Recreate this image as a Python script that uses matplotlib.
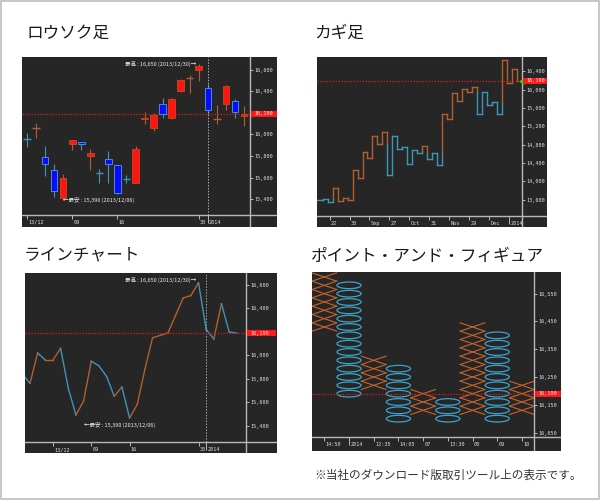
import numpy as np
import matplotlib.pyplot as plt
from matplotlib import transforms
from matplotlib.patches import Rectangle, Ellipse

plt.rcParams['font.family'] = ['Noto Sans CJK JP', 'DejaVu Sans']

# ロウソク足 : daily OHLC
candle_open  = [15960, 16055, 15790, 15670, 15410, 15910, 15930, 15800, 15650, 15770, 15715, 15590, 15550,
                16140, 16060, 16280, 16150, 16405, 16520, 16600, 16430, 16140, 16280, 16310, 16170]
candle_close = [15955, 16060, 15725, 15480, 15600, 15950, 15910, 15830, 15645, 15730, 15460, 15585, 15870,
                16155, 16180, 16190, 16330, 16500, 16525, 16630, 16230, 16145, 16450, 16210, 16190]
candle_high  = [16010, 16110, 15890, 15730, 15635, 15950, 15930, 15870, 15680, 15850, 15715, 15625, 15895,
                16210, 16195, 16340, 16335, 16510, 16555, 16650, 16470, 16270, 16455, 16325, 16260]
candle_low   = [15880, 15970, 15615, 15425, 15390, 15855, 15855, 15675, 15550, 15550, 15450, 15550, 15550,
                16095, 16035, 16155, 16145, 16390, 16380, 16495, 16185, 16095, 16230, 16155, 16075]
candle_tick_idx = [0, 5, 10, 19, 20]
candle_tick_labels = ['13/12', '09', '16', '30', '2014']

# カギ足 : turning prices
kagi_levels = [13590, 13620, 13550, 13850, 13570, 13630, 13600, 14250, 14070, 14640, 14520, 14990, 14820,
               15080, 14130, 15000, 14710, 14760, 14380, 14690, 14620, 14770, 14480, 14620, 14350, 15480,
               15370, 15930, 15750, 16020, 15950, 16060, 15480, 15950, 15660, 15730, 15460, 16640, 16150,
               16460, 16190]
kagi_tick_labels = ['22', '30', 'Sep', '27', 'Oct', '31', 'Nov', '29', 'Dec', '2014']

# ラインチャート : closes (first one lies just left of the frame)
line_close = [15840, 15760, 16020, 15960, 15960, 16060, 15720, 15490, 15610, 15950, 15910, 15820, 15650,
              15730, 15465, 15580, 15880, 16150, 16170, 16190, 16340, 16490, 16510, 16620, 16220, 16140,
              16440, 16200, 16190]
line_tick_idx = [3, 8, 13, 22, 23]
line_tick_labels = ['13/12', '09', '16', '30', '2014']

# ポイント・アンド・フィギュア : columns
pf_type = ['X', 'O', 'X', 'O', 'X', 'O', 'X', 'O', 'X']
pf_high = [16610, 16580, 16310, 16280, 16190, 16160, 16430, 16400, 16220]
pf_low  = [16430, 16190, 16220, 16100, 16130, 16100, 16130, 16100, 16130]
pf_box = 30
pf_tick_labels = ['14:50', '2014', '12:35', '14:05', '07', '13:30', '08', '09', '10']

current_price = 16190

W, H = 600, 500
fig = plt.figure(figsize=(W / 100, H / 100), dpi=100, facecolor='white',
                 edgecolor='#c8c8c8', linewidth=1.5)

BG = '#262626'
AXC = '#b8b8b8'
TXT = '#e0e0e0'
BROWN = '#b0602e'
TEAL = '#3f95b5'
MONO = 'DejaVu Sans Mono'


def panel(box, axis_x, axis_y):
    x0, y0, x1, y1 = box
    bg = fig.add_axes([x0 / W, 1 - y1 / H, (x1 - x0) / W, (y1 - y0) / H])
    bg.set_facecolor(BG)
    bg.set_xlim(x0, x1)
    bg.set_ylim(y1, y0)
    bg.set_xticks([])
    bg.set_yticks([])
    for s in bg.spines.values():
        s.set_visible(False)
    bg.axvline(axis_x, color=AXC, lw=1)
    bg.axhline(axis_y, color=AXC, lw=1)
    ax = fig.add_axes([x0 / W, 1 - axis_y / H, (axis_x - x0) / W, (axis_y - y0) / H])
    ax.patch.set_visible(False)
    for s in ax.spines.values():
        s.set_visible(False)
    ax.yaxis.tick_right()
    ax.tick_params(axis='y', length=2, width=0.7, color=AXC, pad=0.8)
    ax.tick_params(axis='x', which='both', width=0.7, color=AXC, labelbottom=False)
    ax.tick_params(axis='x', which='major', length=3)
    ax.tick_params(axis='x', which='minor', length=5.5)
    return ax


def y_labels(ax, ticks):
    ax.set_yticks(ticks, labels=[f'{v:,}' for v in ticks], fontsize=3.7, family=MONO, color=TXT)


def x_labels(ax, pos, labels):
    ax.set_xticks([p for p, s in zip(pos, labels) if s != '2014'])
    ax.set_xticks([p for p, s in zip(pos, labels) if s == '2014'], minor=True)
    tr = transforms.blended_transform_factory(ax.transData, ax.transAxes) + \
        transforms.ScaledTranslation(1.2 / 100, -7.5 / 100, fig.dpi_scale_trans)
    for p, s in zip(pos, labels):
        ax.text(p, 0, s, transform=tr, ha='left', va='center', fontsize=3.7,
                color=TXT, family=MONO, clip_on=False)


def price_tag(ax, price, tag_px, marker=False):
    ax.axhline(price, color='#c81e1e', lw=0.9, ls=(0, (1.2, 1.2)))
    anchor = transforms.blended_transform_factory(ax.transAxes, ax.transData)
    tr = fig.dpi_scale_trans + transforms.ScaledTranslation(1, price, anchor)
    fig.add_artist(Rectangle((0.01, -0.03), (tag_px - 1) / 100, 0.06, transform=tr,
                             fc='#ff1a1a', ec='none'))
    fig.text(0.045, 0, f'{price:,}', transform=tr, ha='left', va='center',
             fontsize=3.7, color='#ffe4e4', family=MONO)
    if marker:
        ax.plot([1], [price], marker='<', ms=3.5, color='#22dd22', transform=anchor,
                clip_on=False, zorder=5)


# ---- ロウソク足
ax1 = panel((22, 57, 277, 227), 250, 215)
idx = np.arange(len(candle_open))
for i, o, c, h, l in zip(idx, candle_open, candle_close, candle_high, candle_low):
    up = c >= o
    ax1.vlines(i, l, h, color=BROWN if up else TEAL, lw=0.8, zorder=2)
    if abs(c - o) < 10:
        ax1.hlines(c, i - 0.4, i + 0.4, color=BROWN if up else TEAL, lw=1.0, zorder=2)
    else:
        ax1.bar(i, c - o, bottom=o, width=0.74, color='#ff1414' if up else '#0a0aff',
                edgecolor='#c84a1e' if up else '#4aa0e0', lw=0.6, zorder=3)
ax1.axvline(20, color='#aaaaaa', lw=0.7, ls=(0, (1.5, 1.5)))
hi = int(np.argmax(candle_high))
lo = int(np.argmin(candle_low))
ax1.text(hi - 0.3, candle_high[hi] + 5, f'最高 : {candle_high[hi]:,} (2013/12/30)→', ha='right',
         va='center', fontsize=4, color='#eeeeee')
ax1.text(lo, candle_low[lo] + 5, f'←最安 : {candle_low[lo]:,} (2013/12/06)', ha='left',
         va='center', fontsize=4, color='#eeeeee')
y_labels(ax1, range(15400, 16601, 200))
x_labels(ax1, candle_tick_idx, candle_tick_labels)
price_tag(ax1, current_price, 27)
ax1.set_xlim(-0.55, 24.66)
ax1.set_ylim(15255, 16717)

# ---- カギ足
ax2 = panel((317, 57, 547, 227), 522, 216)
color = TEAL
last_top = last_bottom = None
ax2.plot([-1, 1], [kagi_levels[0]] * 2, color=color, lw=1.0)
for i in range(1, len(kagi_levels)):
    prev, cur = kagi_levels[i - 1], kagi_levels[i]
    if cur > prev:
        if color == TEAL and last_top is not None and cur > last_top:
            ax2.plot([i, i], [prev, last_top], color=TEAL, lw=1.0)
            ax2.plot([i, i], [last_top, cur], color=BROWN, lw=1.0)
            color = BROWN
        else:
            ax2.plot([i, i], [prev, cur], color=color, lw=1.0)
        last_bottom = prev
    else:
        if color == BROWN and last_bottom is not None and cur < last_bottom:
            ax2.plot([i, i], [prev, last_bottom], color=BROWN, lw=1.0)
            ax2.plot([i, i], [last_bottom, cur], color=TEAL, lw=1.0)
            color = TEAL
        else:
            ax2.plot([i, i], [prev, cur], color=color, lw=1.0)
        last_top = prev
    if i < len(kagi_levels) - 1:
        ax2.plot([i, i + 1], [cur, cur], color=color, lw=1.0)
y_labels(ax2, range(13600, 16401, 400))
x_labels(ax2, list(np.arange(2.4, 39, 4)), kagi_tick_labels)
price_tag(ax2, current_price, 25, marker=True)
ax2.set_xlim(-0.13, 41)
ax2.set_ylim(13244, 16713)

# ---- ラインチャート
ax3 = panel((25, 273, 277, 453), 246, 442)
lx = np.arange(len(line_close)) - 1
for k in range(len(line_close) - 1):
    c = BROWN if line_close[k + 1] >= line_close[k] else TEAL
    ax3.plot(lx[k:k + 2], line_close[k:k + 2], color=c, lw=1.0)
ax3.axvline(23, color='#aaaaaa', lw=0.7, ls=(0, (1.5, 1.5)))
hi = int(np.argmax(line_close))
ax3.text(lx[hi] - 0.3, line_close[hi] + 25, '最高 : 16,650 (2013/12/30)→', ha='right',
         va='center', fontsize=4, color='#eeeeee')
ax3.text(7, 15405, '←最安 : 15,390 (2013/12/06)', ha='left', va='center',
         fontsize=4, color='#eeeeee')
y_labels(ax3, range(15400, 16601, 200))
x_labels(ax3, line_tick_idx, line_tick_labels)
price_tag(ax3, current_price, 30)
ax3.set_xlim(-0.65, 28.2)
ax3.set_ylim(15260, 16703)

# ---- ポイント・アンド・フィギュア
ax4 = panel((312, 272, 561, 451), 534, 437)
half = pf_box / 2
for j, (t, top, bottom) in enumerate(zip(pf_type, pf_high, pf_low)):
    for v in np.arange(bottom, top + 1, pf_box):
        if t == 'X':
            ax4.plot([j - 0.5, j + 0.5], [v - half, v + half], color='#c8642a', lw=0.8)
            ax4.plot([j - 0.5, j + 0.5], [v + half, v - half], color='#c8642a', lw=0.8)
        else:
            ax4.add_patch(Ellipse((j, v), 0.98, pf_box * 0.8, fill=False, ec='#3ca4cc', lw=0.9))
y_labels(ax4, range(16050, 16551, 100))
x_labels(ax4, list(range(len(pf_type))), pf_tick_labels)
price_tag(ax4, current_price, 27)
ax4.set_xlim(-0.5, 8.49)
ax4.set_ylim(16034, 16628)

# ---- titles
fig.text(27 / W, 1 - 33 / H, 'ロウソク足', fontsize=12, va='center', color='#1a1a1a')
fig.text(314 / W, 1 - 33 / H, 'カギ足', fontsize=12, va='center', color='#1a1a1a')
fig.text(24 / W, 1 - 255 / H, 'ラインチャート', fontsize=12, va='center', color='#1a1a1a')
fig.text(311 / W, 1 - 256 / H, 'ポイント・アンド・フィギュア', fontsize=12, va='center', color='#1a1a1a')
fig.text(314 / W, 1 - 475 / H, '※当社のダウンロード版取引ツール上の表示です。', fontsize=8.4,
         va='center', color='#333333')

fig.savefig('out.png', dpi=100)
